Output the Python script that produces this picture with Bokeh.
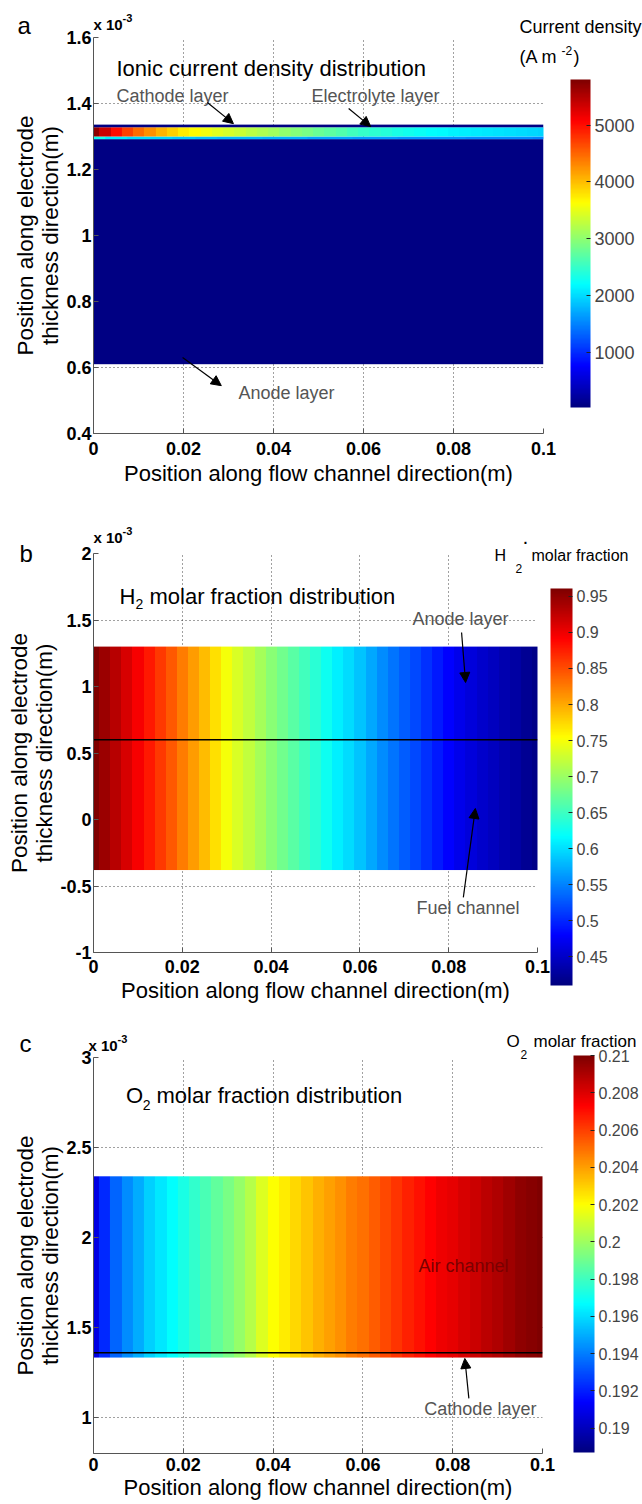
import numpy as np
from bokeh.plotting import figure
from bokeh.layouts import column
from bokeh.models import (LinearColorMapper, ColorBar, FixedTicker, CustomJSTickFormatter,
                          Label, Arrow, NormalHead)
from bokeh.embed import file_html
from bokeh.resources import INLINE

FONT = "Liberation Sans"

# ---------------- data (y in units of 1e-3 m) ----------------
x_fine = [0.0000, 0.0025, 0.0050, 0.0075, 0.0100, 0.0125, 0.0150, 0.0175, 0.0200, 0.0225,
          0.0250, 0.0275, 0.0300, 0.0325, 0.0350, 0.0375, 0.0400, 0.0425, 0.0450, 0.0475,
          0.0500, 0.0525, 0.0550, 0.0575, 0.0600, 0.0625, 0.0650, 0.0675, 0.0700, 0.0725,
          0.0750, 0.0775, 0.0800, 0.0825, 0.0850, 0.0875, 0.0900, 0.0925, 0.0950, 0.0975, 0.1000]
x_coarse = [0.000, 0.005, 0.010, 0.015, 0.020, 0.025, 0.030, 0.035, 0.040, 0.045, 0.050,
            0.055, 0.060, 0.065, 0.070, 0.075, 0.080, 0.085, 0.090, 0.095, 0.100]
x_ticks = [0, 0.02, 0.04, 0.06, 0.08, 0.1]

# panel a : ionic current density (A m^-2)
a_y_ticks = [0.4, 0.6, 0.8, 1.0, 1.2, 1.4, 1.6]
a_layer_bounds = [0.61, 1.292, 1.300, 1.328, 1.336]
a_anode_current = [60]
a_interface_current = [2300, 2100, 2000, 1950, 1900, 1850, 1800, 1800, 1750, 1750, 1700,
                       1700, 1650, 1650, 1600, 1600, 1600, 1550, 1550, 1550, 1500]   # on x_coarse
a_band_current = [5700, 5350, 5000, 4700, 4450, 4250, 4050, 3900, 3750, 3650,
                  3550, 3475, 3400, 3325, 3250, 3175, 3100, 3025, 2950, 2875,
                  2800, 2725, 2650, 2575, 2500, 2450, 2400, 2350, 2300, 2250,
                  2200, 2175, 2150, 2125, 2100, 2075, 2050, 2025, 2000, 1975, 1950]  # on x_fine
a_top_current = [80]
a_cbar_ticks = [1000, 2000, 3000, 4000, 5000]
a_clim = [35, 5800]

# panel b : H2 molar fraction (on x_fine)
b_y_ticks = [-1, -0.5, 0, 0.5, 1, 1.5, 2]
b_region = [-0.38, 1.30]
b_boundary = [0.6]
b_h2 = [0.960, 0.945, 0.930, 0.913, 0.895, 0.878, 0.860, 0.843, 0.825, 0.808,
        0.790, 0.770, 0.750, 0.735, 0.720, 0.705, 0.690, 0.678, 0.665, 0.652,
        0.640, 0.625, 0.610, 0.598, 0.585, 0.570, 0.555, 0.543, 0.530, 0.518,
        0.505, 0.493, 0.480, 0.470, 0.460, 0.452, 0.445, 0.437, 0.430, 0.422, 0.415]
b_cbar_ticks = [0.45, 0.5, 0.55, 0.6, 0.65, 0.7, 0.75, 0.8, 0.85, 0.9, 0.95]
b_clim = [0.41, 0.961]

# panel c : O2 molar fraction (on x_fine)
c_y_ticks = [1, 1.5, 2, 2.5, 3]
c_region = [1.333, 2.34]
c_boundary = [1.36]
c_o2 = [0.1908, 0.1922, 0.1935, 0.1943, 0.1950, 0.1957, 0.1962, 0.1967, 0.1972, 0.1977,
        0.1982, 0.1987, 0.1992, 0.1998, 0.2005, 0.2013, 0.2020, 0.2024, 0.2028, 0.2032,
        0.2036, 0.2040, 0.2043, 0.2047, 0.2050, 0.2054, 0.2058, 0.2062, 0.2066, 0.2070,
        0.2073, 0.2076, 0.2078, 0.2081, 0.2084, 0.2087, 0.2090, 0.2093, 0.2096, 0.2098, 0.2100]
c_cbar_ticks = [0.19, 0.192, 0.194, 0.196, 0.198, 0.2, 0.202, 0.204, 0.206, 0.208, 0.21]
c_clim = [0.1887, 0.21]


# ---------------- style helpers ----------------
def jet_palette(n=256):
    cols = []
    for i in range(n):
        t = i / (n - 1)
        r = np.clip(1.5 - abs(4 * t - 3), 0, 1)
        g = np.clip(1.5 - abs(4 * t - 2), 0, 1)
        b = np.clip(1.5 - abs(4 * t - 1), 0, 1)
        cols.append("#%02x%02x%02x" % (int(r * 255), int(g * 255), int(b * 255)))
    return cols

JET = jet_palette()
FMT = CustomJSTickFormatter(code="return (Math.round(tick*1e6)/1e6).toString();")
L = 93   # common left edge of the three plot frames
CARRIER_SHIFT = 0


def make_fig(fw, fh, br, bt, bb, yr, yticks, xstand, xlstand):
    p = figure(frame_width=fw, frame_height=fh, x_range=(0, 0.1), y_range=yr,
               min_border_left=L, min_border_right=br, min_border_top=bt, min_border_bottom=bb,
               output_backend="svg", toolbar_location=None, outline_line_color=None,
               background_fill_color="white", border_fill_color="white")
    p.xaxis.ticker = FixedTicker(ticks=x_ticks)
    p.yaxis.ticker = FixedTicker(ticks=yticks)
    for ax in (p.xaxis[0], p.yaxis[0]):
        ax.formatter = FMT
        ax.axis_line_color = "#555555"
        ax.major_tick_line_color = "#555555"
        ax.major_tick_in = 5
        ax.major_tick_out = 0
        ax.minor_tick_line_color = None
        ax.major_label_text_font = FONT
        ax.major_label_text_font_size = "18px"
        ax.major_label_text_font_style = "bold"
        ax.major_label_text_color = "black"
        ax.axis_label_text_font = FONT
        ax.axis_label_text_font_style = "normal"
        ax.axis_label_text_color = "black"
    p.xaxis.axis_label_text_font_size = "22px"
    p.yaxis.axis_label_text_font_size = "22.5px"
    p.yaxis.axis_label_text_line_height = 1.0
    p.xaxis.major_label_standoff = xstand
    p.xaxis.axis_label_standoff = xlstand
    p.yaxis.major_label_standoff = 2
    p.yaxis.axis_label_standoff = 0
    p.xaxis.axis_label = "Position along flow channel direction(m)"
    p.yaxis.axis_label = "Position along electrode\nthickness direction(m)"
    for g in (p.xgrid[0], p.ygrid[0]):
        g.grid_line_color = "#222222"
        g.grid_line_alpha = 0.85
        g.grid_line_dash = "1 3"
        g.grid_line_width = 1
    return p


def px2data(R, px, py):
    left, right, top, bottom, ytop, ybot = R
    return ((px - left) / (right - left) * 0.1,
            ytop - (py - top) / (bottom - top) * (ytop - ybot))


def lab(p, R, text, px, py, size, color="black", style="normal", align="left", baseline="middle"):
    # text inside the plot frame, position read in page pixels of the reference
    x, y = px2data(R, px, py)
    p.add_layout(Label(x=x, y=y, text=text, text_font=FONT, text_font_size="%dpx" % size,
                       text_color=color, text_font_style=style, text_align=align,
                       text_baseline=baseline))


def out_text(p, fb, text, px, pybase, size, color="black", style="normal"):
    # text outside the frame: carried by the title of an empty colour bar (not clipped)
    bottom = pybase + 0.21 * size + CARRIER_SHIFT
    cb = ColorBar(color_mapper=LinearColorMapper(palette=["#ffffff"], low=0, high=1),
                  orientation="horizontal",
                  ticker=FixedTicker(ticks=[]), width=1, height=1, padding=0, margin=0,
                  location=(px - L, fb - bottom - 1), title=text,
                  title_text_font=FONT, title_text_font_size="%dpx" % size,
                  title_text_color=color, title_text_font_style=style, title_standoff=0,
                  scale_alpha=0, bar_line_color=None, major_tick_line_color=None,
                  minor_tick_line_color=None, background_fill_alpha=0, border_line_color=None,
                  major_label_text_alpha=0, major_label_text_font_size="1px", label_standoff=0)
    p.add_layout(cb, "center")


def arrow(p, xs, ys, xe, ye):
    p.add_layout(Arrow(end=NormalHead(size=10, fill_color="black", line_color="black"),
                       x_start=xs, y_start=ys, x_end=xe, y_end=ye,
                       line_color="black", line_width=1.2))


def cbar(p, mapper, ticks, loc, w, h, fs):
    cb = ColorBar(color_mapper=mapper, ticker=FixedTicker(ticks=ticks), formatter=FMT,
                  orientation="vertical",
                  width=w, height=h, padding=0, margin=0, location=loc,
                  major_tick_in=4, major_tick_out=0, major_tick_line_color="#222222",
                  minor_tick_line_color=None, bar_line_color=None,
                  major_label_text_font=FONT, major_label_text_font_size="%dpx" % fs,
                  label_standoff=4, background_fill_alpha=0, border_line_color=None)
    p.add_layout(cb, "center")


def heat(p, xs, vals, y0, y1, mapper):
    if len(vals) == 1:
        x0, dw = 0, 0.1
    else:
        step = xs[1] - xs[0]
        x0, dw = xs[0] - step / 2, xs[-1] - xs[0] + step
    p.image(image=[np.array([vals], dtype=float)], x=x0, y=y0, dw=dw, dh=y1 - y0,
            color_mapper=mapper)


# ---------------- panel a ----------------
pa = make_fig(543 - L, 396, 99, 37, 72, (0.4, 1.6), a_y_ticks, 8, 3)
ma_map = LinearColorMapper(palette=JET, low=a_clim[0], high=a_clim[1])
a_layers = [(x_coarse, a_anode_current), (x_coarse, a_interface_current),
            (x_fine, a_band_current), (x_coarse, a_top_current)]
for i, (xs, vals) in enumerate(a_layers):
    heat(pa, xs, vals, a_layer_bounds[i], a_layer_bounds[i + 1], ma_map)
FA = 433
RA = (93, 543, 37, 433, 1.6, 0.4)
cbar(pa, ma_map, a_cbar_ticks, (570 - L, 26), 20, 328, 18)
out_text(pa, FA, "a", 17, 33, 24)
out_text(pa, FA, "x 10", 93, 29, 15, style="bold")
out_text(pa, FA, "-3", 122, 19, 11, style="bold")
out_text(pa, FA, "Current density", 519, 33, 18)
out_text(pa, FA, "(A m", 519, 63, 18)
out_text(pa, FA, "-2", 561, 52, 12)
out_text(pa, FA, ")", 573, 63, 18)
lab(pa, RA, "Ionic current density distribution", 116, 68, 22)
lab(pa, RA, "Cathode layer", 116, 95, 18, color="#555555")
lab(pa, RA, "Electrolyte layer", 311, 95, 18, color="#555555")
lab(pa, RA, "Anode layer", 238, 392, 18, color="#555555")
arrow(pa, 0.0253, 1.403, 0.0311, 1.339)
arrow(pa, 0.0567, 1.385, 0.0616, 1.330)
arrow(pa, 0.0198, 0.630, 0.0284, 0.545)

# ---------------- panel b ----------------
pb = make_fig(537 - L, 399, 105, 48, 63, (-1, 2), b_y_ticks, 7, 2)
mb_map = LinearColorMapper(palette=JET, low=b_clim[0], high=b_clim[1])
heat(pb, x_fine, b_h2, b_region[0], b_region[1], mb_map)
pb.segment(x0=[0], y0=b_boundary, x1=[0.1], y1=b_boundary, line_color="black", line_width=1.5)
FB = 952
RB = (93, 537, 553, 952, 2, -1)
cbar(pb, mb_map, b_cbar_ticks, (550 - L, -33), 22, 397, 16)
out_text(pb, FB, "b", 19, 561, 24)
out_text(pb, FB, "x 10", 93, 542, 15, style="bold")
out_text(pb, FB, "-3", 122, 532, 11, style="bold")
out_text(pb, FB, "H", 494, 560, 16)
out_text(pb, FB, "2", 515, 570, 12)
out_text(pb, FB, "molar fraction", 531, 560, 16)
out_text(pb, FB, ".", 523, 541, 14, style="bold")
lab(pb, RB, "H", 119, 596, 22, baseline="alphabetic")
lab(pb, RB, "2", 135, 603, 14, baseline="alphabetic")
lab(pb, RB, "molar fraction distribution", 149, 596, 22, baseline="alphabetic")
lab(pb, RB, "Anode layer", 412, 618, 18, color="#555555")
lab(pb, RB, "Fuel channel", 416, 907, 18, color="#555555")
arrow(pb, 0.0829, 1.406, 0.0838, 1.03)
arrow(pb, 0.0833, -0.586, 0.0860, 0.083)

# ---------------- panel c ----------------
pc = make_fig(542 - L, 396, 100, 42, 51, (0.8, 3), c_y_ticks, 4, 1)
mc_map = LinearColorMapper(palette=JET, low=c_clim[0], high=c_clim[1])
heat(pc, x_fine, c_o2, c_region[0], c_region[1], mc_map)
pc.segment(x0=[0], y0=c_boundary, x1=[0.1], y1=c_boundary, line_color="black", line_width=1.5)
FC = 1453
RC = (86, 542, 1057, 1453, 3, 0.8)
cbar(pc, mc_map, c_cbar_ticks, (573 - L, 1), 21, 397, 16)
out_text(pc, FC, "c", 19, 1051, 24)
out_text(pc, FC, "x 10", 88, 1050, 15, style="bold")
out_text(pc, FC, "-3", 117, 1040, 11, style="bold")
out_text(pc, FC, "O", 506, 1047, 17)
out_text(pc, FC, "2", 520, 1056, 12)
out_text(pc, FC, "molar fraction", 533, 1047, 17)
lab(pc, RC, "O", 119, 1095, 22, baseline="alphabetic")
lab(pc, RC, "2", 136, 1104, 14, baseline="alphabetic")
lab(pc, RC, "molar fraction distribution", 150, 1095, 22, baseline="alphabetic")
lab(pc, RC, "Air channel", 416, 1265, 18, color="#7a0000")
lab(pc, RC, "Cathode layer", 422, 1408, 18, color="#555555")
arrow(pc, 0.0836, 1.106, 0.0827, 1.328)

layout = column(pa, pb, pc, spacing=0)
open("out.html", "w").write(file_html(layout, INLINE))
